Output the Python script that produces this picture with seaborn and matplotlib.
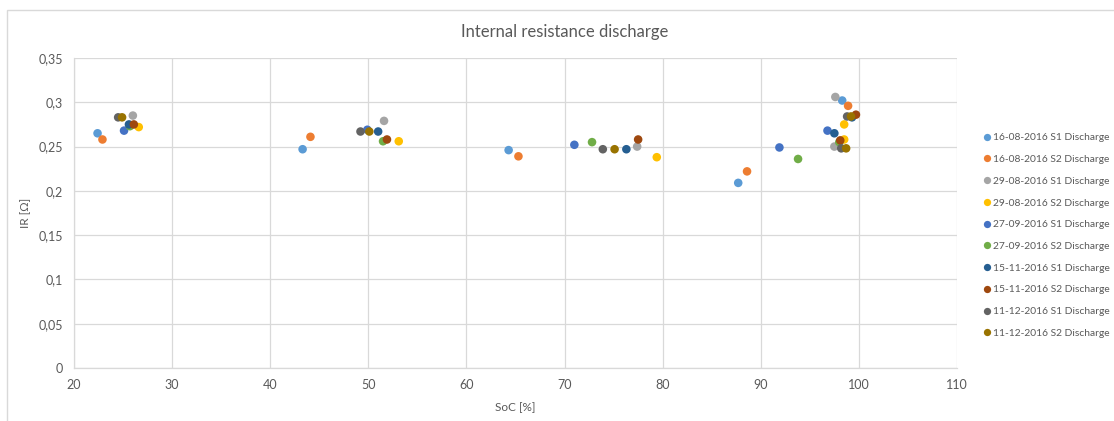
import matplotlib
matplotlib.use("Agg")
import matplotlib.pyplot as plt
import matplotlib.patches as mpatches
import seaborn as sns
import pandas as pd

series_names = [
    "16-08-2016 S1 Discharge", "16-08-2016 S2 Discharge",
    "29-08-2016 S1 Discharge", "29-08-2016 S2 Discharge",
    "27-09-2016 S1 Discharge", "27-09-2016 S2 Discharge",
    "15-11-2016 S1 Discharge", "15-11-2016 S2 Discharge",
    "11-12-2016 S1 Discharge", "11-12-2016 S2 Discharge",
]
colors = ["#5B9BD5", "#ED7D31", "#A5A5A5", "#FFC000", "#4472C4",
          "#70AD47", "#255E91", "#9E480E", "#636363", "#997300"]

soc_16_08_s1 = [22.4, 43.3, 64.3, 87.7, 98.3]
ir_16_08_s1 = [0.265, 0.247, 0.246, 0.209, 0.302]
soc_16_08_s2 = [22.9, 44.1, 65.3, 88.6, 98.9]
ir_16_08_s2 = [0.258, 0.261, 0.239, 0.222, 0.296]
soc_29_08_s1 = [26.0, 51.6, 77.4, 97.6, 97.5]
ir_29_08_s1 = [0.285, 0.279, 0.250, 0.306, 0.250]
soc_29_08_s2 = [26.6, 53.1, 79.4, 98.5, 98.5]
ir_29_08_s2 = [0.272, 0.256, 0.238, 0.275, 0.258]
soc_27_09_s1 = [25.1, 49.9, 71.0, 91.9, 96.8]
ir_27_09_s1 = [0.268, 0.269, 0.252, 0.249, 0.268]
soc_27_09_s2 = [25.7, 51.5, 72.8, 93.8, 98.0]
ir_27_09_s2 = [0.273, 0.256, 0.255, 0.236, 0.255]
soc_15_11_s1 = [25.6, 51.0, 76.3, 97.5, 99.3]
ir_15_11_s1 = [0.275, 0.267, 0.247, 0.265, 0.283]
soc_15_11_s2 = [26.1, 51.9, 77.5, 98.1, 99.7]
ir_15_11_s2 = [0.275, 0.258, 0.258, 0.257, 0.286]
soc_11_12_s1 = [24.5, 49.2, 73.9, 98.2, 98.8]
ir_11_12_s1 = [0.283, 0.267, 0.247, 0.248, 0.284]
soc_11_12_s2 = [24.9, 50.1, 75.1, 98.7, 99.2]
ir_11_12_s2 = [0.283, 0.267, 0.247, 0.248, 0.284]

x_ticks = [20, 30, 40, 50, 60, 70, 80, 90, 100, 110]
y_ticks = [0, 0.05, 0.1, 0.15, 0.2, 0.25, 0.3, 0.35]
y_tick_labels = ["0", "0,05", "0,1", "0,15", "0,2", "0,25", "0,3", "0,35"]

all_soc = [soc_16_08_s1, soc_16_08_s2, soc_29_08_s1, soc_29_08_s2, soc_27_09_s1,
           soc_27_09_s2, soc_15_11_s1, soc_15_11_s2, soc_11_12_s1, soc_11_12_s2]
all_ir = [ir_16_08_s1, ir_16_08_s2, ir_29_08_s1, ir_29_08_s2, ir_27_09_s1,
          ir_27_09_s2, ir_15_11_s1, ir_15_11_s2, ir_11_12_s1, ir_11_12_s2]

rows = []
for name, xs, ys in zip(series_names, all_soc, all_ir):
    for x, y in zip(xs, ys):
        rows.append({"SoC": x, "IR": y, "Series": name})
df = pd.DataFrame(rows)

sns.set_theme(style="white")
plt.rcParams["font.family"] = ["Lato", "DejaVu Sans"]

text_col = "#595959"
grid_col = "#D9D9D9"

fig = plt.figure(figsize=(11.14, 4.21), dpi=100)
ax = fig.add_axes([74 / 1114, 1 - 368 / 421, (957 - 74) / 1114, (368 - 58) / 421])

sns.scatterplot(data=df, x="SoC", y="IR", hue="Series", hue_order=series_names,
                palette=colors, s=38, linewidth=0, ax=ax, legend=True, zorder=3)

ax.set_xlim(20, 110)
ax.set_ylim(0, 0.35)
ax.set_xticks(x_ticks)
ax.set_xticklabels([str(t) for t in x_ticks])
ax.set_yticks(y_ticks)
ax.set_yticklabels(y_tick_labels)
ax.tick_params(axis="both", length=0, labelsize=9, colors=text_col)
ax.tick_params(axis="x", pad=8)
ax.tick_params(axis="y", pad=8)
ax.grid(True, color=grid_col, linewidth=0.9, zorder=0)
for sp in ["top", "right"]:
    ax.spines[sp].set_visible(False)
for sp in ["left", "bottom"]:
    ax.spines[sp].set_color(grid_col)
    ax.spines[sp].set_linewidth(0.9)

ax.set_xlabel("SoC [%]", fontsize=8.5, color=text_col, labelpad=8)
ax.set_ylabel("IR [Ω]", fontsize=8.5, color=text_col, labelpad=0)
ax.yaxis.set_label_coords(-(74 - 31) / 883, (368 - 213) / 310)
fig.text(565 / 1114, 1 - 32 / 421, "Internal resistance discharge",
         ha="center", va="center", fontsize=12, color=text_col)

handles, labels = ax.get_legend_handles_labels()
ax.legend(handles, labels, loc="upper left", bbox_to_anchor=(978 / 1114, 1 - 129 / 421),
          bbox_transform=fig.transFigure, frameon=False, fontsize=7.4, labelspacing=1.22,
          handletextpad=0.05, handlelength=1.0, markerscale=0.85, labelcolor=text_col,
          borderaxespad=0)

fig.patches.append(mpatches.Rectangle((7 / 1114, -0.05), 1.2, 1 - 10 / 421 + 0.05,
                                      transform=fig.transFigure, fill=False,
                                      edgecolor="#D9D9D9", linewidth=1.0))

fig.savefig("out.png", dpi=100)
